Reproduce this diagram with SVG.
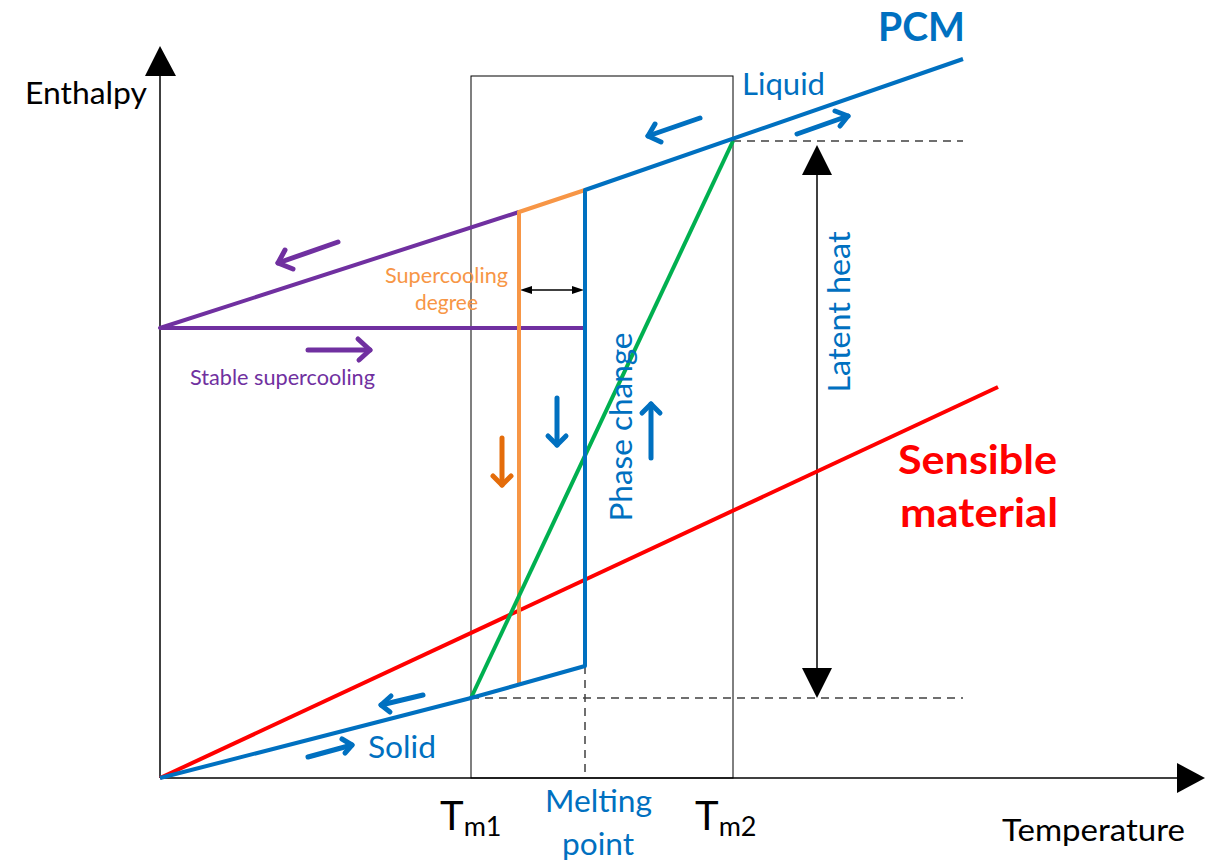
<svg xmlns="http://www.w3.org/2000/svg" width="1206" height="862" viewBox="0 0 1206 862">
<style>
.ax{stroke:#000;stroke-width:1.5;fill:none}
.box{stroke:#000;stroke-width:1;fill:none}
.dash{stroke:#404040;stroke-width:1.5;stroke-dasharray:8,6;fill:none}
.ln{stroke-width:4;fill:none;stroke-linejoin:round}
.arr{stroke-width:5;fill:none;stroke-linecap:round;stroke-linejoin:round}
.blue{stroke:#0070C0}.purple{stroke:#7030A0}.orange{stroke:#F79646}.dorange{stroke:#E46C0A}.green{stroke:#00B050}.red{stroke:#FF0000}
text{font-family:Lato,"Open Sans","Liberation Sans",sans-serif}
.lbl{font-size:30px}
</style>
<rect width="1206" height="862" fill="#fff"/>
<g id="axes">
<line class="ax" x1="160" y1="778" x2="160" y2="72"/>
<polygon points="160,46 145,76 176,76" fill="#000"/>
<line class="ax" x1="160" y1="778" x2="1180" y2="778"/>
<polygon points="1205,778 1177,763 1177,793" fill="#000"/>
<text class="lbl" x="25" y="104" fill="#000" textLength="122" lengthAdjust="spacingAndGlyphs">Enthalpy</text>
<text class="lbl" x="1002" y="841" fill="#000" textLength="183" lengthAdjust="spacingAndGlyphs">Temperature</text>
</g>
<g id="range-box">
<rect class="box" x="471" y="76" width="262" height="702"/>
</g>
<g id="connectors">
<line class="dash" x1="733" y1="141" x2="963" y2="141"/>
<line class="dash" x1="471" y1="698" x2="963" y2="698"/>
<line class="dash" x1="585" y1="666" x2="585" y2="778"/>
<line x1="817" y1="172" x2="817" y2="670" stroke="#000" stroke-width="1.5"/>
<polygon points="817,145 802,175 832,175" fill="#000"/>
<polygon points="817,698 802,668 832,668" fill="#000"/>
<line x1="528" y1="290" x2="576" y2="290" stroke="#000" stroke-width="1.5"/>
<polygon points="520,290 532,286 532,294" fill="#000"/>
<polygon points="584,290 572,286 572,294" fill="#000"/>
</g>
<g id="red-sensible">
<line class="ln red" x1="160" y1="778" x2="998" y2="387"/>
<text x="898" y="474" fill="#FF0000" font-size="41" font-weight="bold" textLength="159" lengthAdjust="spacingAndGlyphs">Sensible</text>
<text x="900" y="527" fill="#FF0000" font-size="41" font-weight="bold" textLength="158" lengthAdjust="spacingAndGlyphs">material</text>
</g>
<g id="purple-supercooling">
<polyline class="ln purple" points="519,212 160,328 585,328"/>
<polyline class="arr purple" points="338,242 278,263"/>
<polyline class="arr purple" points="285,250 278,263 293,269"/>
<polyline class="arr purple" points="308,350 370,350"/>
<polyline class="arr purple" points="358,339 370,350 359,360"/>
<text x="190" y="385" fill="#7030A0" font-size="21" textLength="185" lengthAdjust="spacingAndGlyphs">Stable supercooling</text>
</g>
<g id="orange-supercooling">
<polyline class="ln orange" points="585,190 519,212 519,685"/>
<polyline class="arr dorange" points="502,438 502,485"/>
<polyline class="arr dorange" points="493,476 502,485 511,476"/>
<text x="385" y="283" fill="#F79646" font-size="21" textLength="123" lengthAdjust="spacingAndGlyphs">Supercooling</text>
<text x="415" y="310" fill="#F79646" font-size="21" textLength="63" lengthAdjust="spacingAndGlyphs">degree</text>
</g>
<g id="green-path">
<line class="ln green" x1="471" y1="698" x2="733" y2="141"/>
</g>
<g id="blue-pcm">
<polyline class="ln blue" points="160,778 471,698 585,666 585,190 963,59"/>
<polyline class="arr blue" points="557,398 557,445"/>
<polyline class="arr blue" points="548,436 557,445 566,436"/>
<polyline class="arr blue" points="651,458 651,404"/>
<polyline class="arr blue" points="642,413 651,404 660,413"/>
<polyline class="arr blue" points="700,118 648,136"/>
<polyline class="arr blue" points="655,124 648,136 661,142"/>
<polyline class="arr blue" points="797,134 848,116"/>
<polyline class="arr blue" points="835,111 848,116 840,126"/>
<polyline class="arr blue" points="423,695 381,705"/>
<polyline class="arr blue" points="391,696 381,705 390,712"/>
<polyline class="arr blue" points="308,757 352,745"/>
<polyline class="arr blue" points="342,739 352,745 345,753"/>
<text x="878" y="41" fill="#0070C0" font-size="40" font-weight="bold" textLength="87" lengthAdjust="spacingAndGlyphs">PCM</text>
<text class="lbl" x="742" y="95" fill="#0070C0" textLength="83" lengthAdjust="spacingAndGlyphs">Liquid</text>
<text class="lbl" x="368" y="758" fill="#0070C0" textLength="68" lengthAdjust="spacingAndGlyphs">Solid</text>
<text x="0" y="0" fill="#0070C0" font-size="31" text-anchor="middle" textLength="189" lengthAdjust="spacingAndGlyphs" transform="translate(632,427) rotate(-90)">Phase change</text>
<text class="lbl" x="0" y="0" fill="#0070C0" text-anchor="middle" textLength="161" lengthAdjust="spacingAndGlyphs" transform="translate(850,312) rotate(-90)">Latent heat</text>
<text class="lbl" x="545" y="812" fill="#0070C0" textLength="107" lengthAdjust="spacingAndGlyphs">Melting</text>
<text class="lbl" x="562" y="855" fill="#0070C0" textLength="72" lengthAdjust="spacingAndGlyphs">point</text>
</g>
<g id="tm-labels">
<text x="440" y="830" fill="#000" font-size="40">T<tspan font-size="27" dy="6">m1</tspan></text>
<text x="695" y="830" fill="#000" font-size="40">T<tspan font-size="27" dy="6">m2</tspan></text>
</g>
</svg>
